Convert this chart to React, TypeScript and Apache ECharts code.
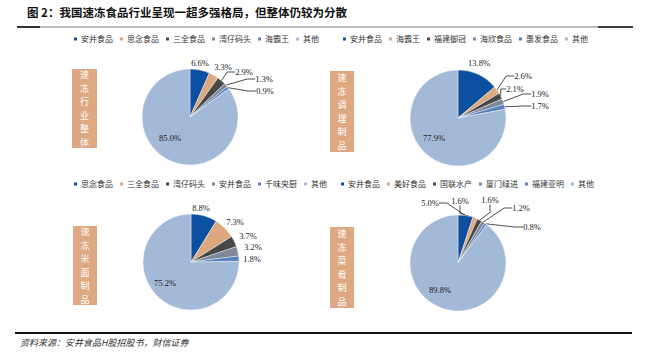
import React, { useEffect, useRef } from "react";
import * as echarts from "echarts";

const colors = ["#0B4FA0", "#DDA87F", "#474747", "#7D8899", "#5882BE", "#A3B9D8"];

const names1 = ["安井食品", "思念食品", "三全食品", "湾仔码头", "海霸王", "其他"];
const values1 = [6.6, 3.3, 2.9, 1.3, 0.9, 85.0];
const names2 = ["安井食品", "海霸王", "福建御冠", "海欣食品", "惠发食品", "其他"];
const values2 = [13.8, 2.6, 2.1, 1.9, 1.7, 77.9];
const names3 = ["思念食品", "三全食品", "湾仔码头", "安井食品", "千味央厨", "其他"];
const values3 = [8.8, 7.3, 3.7, 3.2, 1.8, 75.2];
const names4 = ["安井食品", "美好食品", "国联水产", "厦门绿进", "福建亚明", "其他"];
const values4 = [5.0, 1.6, 1.6, 1.2, 0.8, 89.8];
const panelLabels = ["速冻行业整体", "速冻调理制品", "速冻米面制品", "速冻菜肴制品"];
const titleText = "图 2：我国速冻食品行业呈现一超多强格局，但整体仍较为分散";
const sourceText = "资料来源：安井食品H股招股书，财信证券";

// layout: label centre offsets from pie centre, and which labels get leader lines
const panels = [
  {
    names: names1, values: values1, center: [190, 117], legend: [72, 35], box: [72, 69, 25, 79],
    labelOff: [[10, -54], [33, -50], [54, -45], [74, -38], [75, -26], [-20, 21]],
    lines: [false, false, true, true, true, false],
  },
  {
    names: names2, values: values2, center: [458, 118], legend: [341, 35], box: [330, 71, 24, 81],
    labelOff: [[21, -55], [65, -42], [57, -29], [82, -24], [82, -12], [-24, 20]],
    lines: [false, true, true, true, true, false],
  },
  {
    names: names3, values: values3, center: [191, 262], legend: [72, 180], box: [73, 226, 24, 79],
    labelOff: [[10, -54], [44, -40], [57, -26], [62, -15], [61, -3], [-26, 21]],
    lines: [false, false, false, false, false, false],
  },
  {
    names: names4, values: values4, center: [458, 263], legend: [339, 180], box: [330, 227, 24, 81],
    labelOff: [[-28, -60], [2, -62], [32, -63], [63, -55], [74, -36], [-18, 27]],
    lines: [true, true, true, true, true, false],
  },
];

const CJK = "'Noto Sans CJK SC', sans-serif";
const SERIF = "'Liberation Serif', 'Times New Roman', serif";

export default function App() {
  const ref = useRef<HTMLDivElement>(null);
  useEffect(() => {
    if (!ref.current) return;
    const chart = echarts.init(ref.current, null, { renderer: "svg" });

    const legends = panels.map((p) => ({
      left: p.legend[0],
      top: p.legend[1],
      orient: "horizontal",
      icon: "rect",
      itemWidth: 5,
      itemHeight: 5,
      itemGap: 5,
      padding: 0,
      textStyle: { fontSize: 8, fontFamily: CJK, color: "#333", padding: [0, 0, 0, -2] },
      data: p.names.map((n, i) => ({ name: n, itemStyle: { color: colors[i] } })),
    }));

    const series = panels.map((p, si) => ({
      type: "pie",
      name: "pie" + si,
      center: p.center,
      radius: 48,
      startAngle: 90,
      clockwise: true,
      avoidLabelOverlap: false,
      itemStyle: { borderColor: "#fff", borderWidth: 0.4 },
      label: {
        show: true,
        position: "outside",
        fontSize: 8.5,
        fontFamily: SERIF,
        color: "#222",
        formatter: (q: any) => q.value.toFixed(1) + "%",
      },
      labelLine: { show: true, length: 6, length2: 8, lineStyle: { color: "#222", width: 0.8 } },
      labelLayout: (params: any) => {
        const o = p.labelOff[params.dataIndex];
        return {
          x: p.center[0] + o[0],
          y: p.center[1] + o[1],
          align: "center",
          verticalAlign: "middle",
        };
      },
      emphasis: { disabled: true },
      data: p.names.map((n, i) => ({
        name: n,
        value: p.values[i],
        itemStyle: { color: colors[i] },
        label: i === 5 ? { position: "inside" } : {},
        labelLine: { show: p.lines[i] },
      })),
    }));

    const graphics: any[] = [
      {
        type: "text",
        left: 27,
        top: 6,
        style: { text: titleText, fontSize: 11.5, fontWeight: "bold", fontFamily: CJK, fill: "#111" },
      },
      { type: "line", shape: { x1: 17, y1: 27, x2: 633, y2: 27 }, style: { stroke: "#777", lineWidth: 1 } },
      { type: "line", shape: { x1: 17, y1: 27, x2: 40, y2: 27 }, style: { stroke: "#111", lineWidth: 1.6 } },
      { type: "line", shape: { x1: 598, y1: 27, x2: 633, y2: 27 }, style: { stroke: "#111", lineWidth: 1.6 } },
      { type: "line", shape: { x1: 15, y1: 333, x2: 632, y2: 333 }, style: { stroke: "#111", lineWidth: 1.8 } },
      {
        type: "text",
        left: 20,
        top: 338,
        style: { text: sourceText, fontSize: 9, fontStyle: "italic", fontFamily: CJK, fill: "#333" },
      },
    ];
    panels.forEach((p, i) => {
      const [bx, by, bw, bh] = p.box;
      graphics.push({ type: "rect", shape: { x: bx, y: by, width: bw, height: bh }, style: { fill: "#DDA882" } });
      const chars = panelLabels[i].split("");
      const step = 13.5;
      const y0 = by + bh / 2 - ((chars.length - 1) * step) / 2;
      chars.forEach((c, k) => {
        graphics.push({
          type: "text",
          x: bx + bw / 2,
          y: y0 + k * step,
          style: {
            text: c,
            fontSize: 9,
            fontFamily: CJK,
            fill: "#fff",
            align: "center",
            verticalAlign: "middle",
          },
        });
      });
    });

    chart.setOption({
      animation: false,
      backgroundColor: "#fff",
      legend: legends,
      series,
      graphic: graphics,
    });
    return () => chart.dispose();
  }, []);
  return <div ref={ref} style={{ width: 650, height: 355, position: "absolute", left: 0, top: 0 }} />;
}
